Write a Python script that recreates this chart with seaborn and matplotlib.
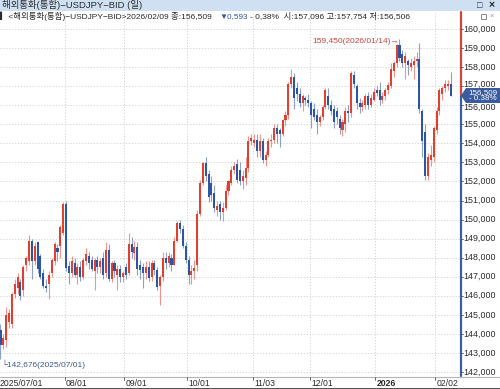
import matplotlib
matplotlib.use("Agg")
import matplotlib.pyplot as plt
import seaborn as sns
import pandas as pd
import numpy as np
from matplotlib.patches import Polygon, Rectangle
from matplotlib.lines import Line2D

# ---------------- data (USDJPY daily OHLC) ----------------
dates = [d for d in pd.bdate_range("2025-07-01", "2026-02-09") if d != pd.Timestamp("2026-01-01")]

jul_ohlc = [
    (144.2, 144.5, 142.676, 143.4), (143.4, 144.0, 143.2, 143.8), (143.7, 145.4, 143.3, 145.0),
    (144.6, 145.3, 144.3, 145.1), (144.5, 146.2, 144.3, 146.1), (146.1, 146.9, 145.9, 146.6),
    (146.4, 147.2, 146.1, 147.0), (146.7, 146.9, 145.8, 146.0), (146.3, 147.6, 146.0, 147.5),
    (147.6, 148.1, 147.3, 148.0), (147.8, 149.2, 147.6, 148.9), (148.9, 149.0, 146.9, 147.8),
    (147.8, 148.8, 147.6, 148.6), (148.8, 148.9, 147.2, 147.4), (148.1, 148.2, 146.9, 147.0),
    (147.2, 147.4, 146.4, 146.5), (146.5, 146.9, 146.2, 146.4), (146.6, 147.3, 145.85, 147.1),
    (147.2, 148.0, 147.0, 147.9), (147.8, 148.8, 147.6, 148.7), (148.5, 148.7, 147.8, 148.3),
    (148.6, 149.7, 148.0, 149.6), (149.3, 150.9, 149.2, 150.8),
]
aug_ohlc = [
    (150.8, 150.95, 147.3, 147.45), (147.55, 147.8, 146.6, 147.2), (147.2, 148.1, 147.0, 147.8),
    (147.7, 148.0, 147.0, 147.1), (147.1, 147.7, 146.6, 147.5), (147.5, 147.8, 146.8, 147.0),
    (147.0, 148.0, 146.9, 147.9), (147.8, 148.5, 147.6, 148.2), (148.1, 148.3, 147.4, 147.7),
    (147.9, 148.1, 147.3, 147.4), (147.3, 148.0, 146.3, 147.9), (147.9, 148.1, 147.2, 147.5),
    (147.5, 148.0, 147.2, 147.8), (148.0, 148.3, 146.9, 147.1), (147.2, 148.8, 147.0, 148.4),
    (148.4, 148.7, 146.8, 146.9), (146.9, 147.8, 146.7, 147.7), (147.7, 147.9, 147.0, 147.3),
    (147.1, 147.6, 146.3, 147.4), (147.4, 147.6, 146.7, 147.0), (147.0, 147.3, 146.7, 147.2),
]
sep_ohlc = [
    (147.5, 147.7, 146.9, 147.1), (147.2, 149.3, 147.1, 148.7), (148.7, 149.1, 148.0, 148.3),
    (148.25, 148.9, 147.9, 148.55), (148.55, 148.8, 147.1, 147.4), (147.6, 147.9, 146.9, 147.35),
    (147.5, 147.7, 146.4, 147.2), (147.2, 147.8, 146.9, 147.5), (147.5, 147.8, 146.8, 146.95),
    (147.0, 147.9, 146.8, 147.7), (147.7, 147.9, 147.1, 147.35), (147.35, 147.5, 146.3, 146.45),
    (146.5, 147.1, 145.5, 147.0), (147.0, 148.3, 146.8, 148.0), (148.0, 148.3, 147.4, 147.7),
    (147.7, 148.3, 147.5, 148.1), (148.0, 148.2, 147.3, 147.6), (147.6, 149.1, 147.6, 148.9),
    (148.9, 149.95, 148.8, 149.8), (149.8, 150.0, 149.3, 149.5), (149.5, 149.7, 148.5, 148.6),
    (148.6, 148.8, 147.7, 147.9),
]
oct_ohlc = [
    (147.9, 148.1, 146.6, 147.1), (147.1, 147.6, 146.6, 147.3), (147.3, 147.9, 146.9, 147.45),
    (147.6, 150.5, 147.3, 150.3), (150.3, 152.1, 150.2, 151.9), (151.9, 153.0, 151.8, 152.95),
    (152.95, 153.3, 152.0, 152.3), (152.4, 152.6, 150.9, 151.2), (151.9, 152.3, 151.0, 151.3),
    (151.4, 151.8, 150.4, 150.6), (150.5, 151.0, 150.2, 150.7), (150.8, 151.0, 150.0, 150.4),
    (150.4, 150.9, 149.9, 150.6), (150.6, 151.8, 150.5, 151.5), (151.5, 152.1, 151.3, 152.0),
    (151.9, 152.8, 151.8, 152.6), (152.6, 153.0, 152.4, 152.8), (152.9, 153.2, 151.9, 152.1),
    (152.6, 153.0, 151.8, 152.0), (152.0, 152.6, 151.6, 152.3), (152.2, 153.3, 151.8, 152.7),
    (152.7, 154.4, 152.5, 154.1), (154.1, 154.5, 153.9, 154.3),
]
nov_ohlc = [
    (154.0, 154.5, 153.8, 154.2), (154.2, 154.5, 153.3, 153.6), (153.6, 154.5, 153.3, 154.1),
    (154.1, 154.3, 152.95, 153.1), (153.1, 153.6, 152.8, 153.4), (153.4, 154.3, 153.3, 154.1),
    (154.1, 154.5, 153.8, 154.15), (154.15, 155.0, 154.0, 154.8), (154.8, 155.0, 154.0, 154.5),
    (154.7, 154.8, 153.8, 154.5), (154.5, 155.3, 154.4, 155.2), (155.2, 155.7, 154.9, 155.5),
    (155.5, 157.2, 155.3, 157.1), (157.1, 157.9, 156.9, 157.5), (157.5, 157.7, 155.8, 156.4),
    (156.9, 157.2, 156.2, 156.6), (156.6, 156.9, 155.9, 156.1), (156.1, 156.6, 155.7, 156.5),
    (156.4, 156.5, 156.0, 156.3), (156.3, 156.6, 155.9, 156.1),
]
dec_ohlc = [
    (156.1, 156.2, 154.8, 155.5), (155.8, 156.1, 155.2, 155.4), (155.5, 155.8, 154.5, 155.1),
    (155.1, 155.5, 154.9, 155.4), (155.4, 156.0, 155.2, 155.9), (155.9, 156.9, 155.8, 156.8),
    (156.5, 156.9, 155.8, 156.0), (156.0, 156.3, 155.5, 155.7), (155.8, 156.0, 154.8, 155.1),
    (155.7, 155.9, 155.0, 155.4), (155.3, 155.5, 154.5, 154.8), (154.7, 155.3, 154.4, 155.1),
    (155.0, 155.9, 154.6, 155.7), (155.7, 156.0, 155.1, 155.6), (155.6, 157.8, 155.4, 157.7),
    (157.6, 157.8, 156.9, 157.1), (157.0, 157.1, 155.8, 156.1), (156.1, 156.4, 155.6, 155.9),
    (155.9, 156.3, 155.7, 156.1), (156.0, 156.6, 155.8, 156.5), (156.5, 156.7, 155.8, 156.0),
    (156.0, 156.6, 155.9, 156.4), (156.3, 156.9, 156.2, 156.7),
]
jan_ohlc = [
    (156.8, 157.0, 156.5, 156.65), (156.8, 157.2, 156.0, 156.3), (156.3, 156.7, 156.1, 156.5),
    (156.5, 156.9, 156.3, 156.8), (156.8, 157.2, 156.6, 157.05), (157.0, 158.2, 156.9, 157.9),
    (157.8, 158.3, 157.5, 158.2), (158.2, 159.2, 158.0, 159.15), (159.15, 159.45, 158.3, 158.5),
    (158.7, 158.9, 158.0, 158.2), (158.2, 158.8, 157.4, 158.6), (158.3, 158.4, 157.6, 158.1),
    (158.0, 158.5, 157.8, 158.2), (158.1, 158.6, 157.4, 158.3), (158.3, 158.8, 158.0, 158.4),
    (158.4, 159.25, 155.6, 155.8), (155.7, 155.8, 153.3, 154.1), (154.6, 155.0, 152.1, 152.3),
    (152.3, 153.5, 152.1, 153.3), (153.1, 153.9, 152.8, 153.4), (153.3, 154.9, 153.0, 154.8),
]
feb_ohlc = [
    (154.7, 155.9, 154.5, 155.7), (155.7, 156.9, 155.5, 156.8), (156.6, 157.0, 156.3, 156.9),
    (156.9, 157.3, 156.7, 157.1), (157.0, 157.3, 156.8, 157.102), (157.096, 157.754, 156.506, 156.509),
]

tick_dates = ["2025-07-01", "2025-08-01", "2025-09-01", "2025-10-01", "2025-11-03",
              "2025-12-01", "2026-01-02", "2026-02-02"]
tick_labels = ["2025/07/01", "08/01", "09/01", "10/01", "11/03", "12/01", "2026", "02/02"]
price_ticks = list(range(142, 161))
last_price = 156.509
high_note = "159,450(2026/01/14)\u2192"
low_note = "\u2514142,676(2025/07/01)"

# ---------------- build frame ----------------
rows = jul_ohlc + aug_ohlc + sep_ohlc + oct_ohlc + nov_ohlc + dec_ohlc + jan_ohlc + feb_ohlc
df = pd.DataFrame(rows, columns=["open", "high", "low", "close"])
df["date"] = dates[:len(df)]
df["idx"] = np.arange(len(df))
df["up"] = df["close"] >= df["open"]

RED = "#e0402f"
BLUE = "#2e55a3"
TXT = "#2a2a2a"

sns.set_theme(style="white")
plt.rcParams["font.family"] = ["Liberation Sans", "Noto Sans CJK KR", "DejaVu Sans"]
plt.rcParams["axes.unicode_minus"] = False

W, H = 500, 389
fig = plt.figure(figsize=(W / 100, H / 100), dpi=100)
fig.patch.set_facecolor("white")

def fx(x):
    return x / W

def fy(y):
    return 1 - y / H

# plot area pixels
PX0, PX1, PY0, PY1 = 0, 460, 12, 376
ax = fig.add_axes([fx(PX0), fy(PY1), (PX1 - PX0) / W, (PY1 - PY0) / H])
ax.set_facecolor("white")

pp_idx = 2.85
x_left = (PX0 - 0.5) / pp_idx
x_right = (PX1 - 0.5) / pp_idx
ppu = (372 - 29) / 18.0
y_top = 160 + (29 - PY0) / ppu
y_bot = 142 - (PY1 - 372) / ppu
ax.set_xlim(x_left, x_right)
ax.set_ylim(y_bot, y_top)

# grid
for p in price_ticks:
    ax.axhline(p, color="#cfcfcf", lw=0.6, ls=(0, (1.5, 2)), zorder=0)
tick_idx = [int(df.index[df["date"] == pd.Timestamp(d)][0]) for d in tick_dates]
for ti in tick_idx:
    ax.axvline(ti - 0.5, color="#cfcfcf", lw=0.6, ls=(0, (1.5, 2)), zorder=0)

# candles
colors = np.where(df["up"], RED, BLUE)
ax.vlines(df["idx"], df["low"], df["high"], colors=colors, lw=0.8, alpha=0.55, zorder=2)
body_bottom = np.minimum(df["open"], df["close"])
body_h = np.maximum(np.abs(df["close"] - df["open"]), 0.04)
ax.bar(df["idx"], body_h, bottom=body_bottom, width=0.72, color=colors, linewidth=0, zorder=3)

ax.set_xticks([])
ax.set_yticks([])
for s in ax.spines.values():
    s.set_visible(False)

# annotations
hi_i = int(df["high"].idxmax())
lo_i = int(df["low"].idxmin())
ax.text(hi_i - 0.3, df["high"].max() - 0.12, high_note, color="#c9463b", fontsize=6.0,
        ha="right", va="center", zorder=5)
ax.text(lo_i + 0.2, df["low"].min() - 0.25, low_note, color="#3d5a8f", fontsize=6.0,
        ha="left", va="center", zorder=5)

# overlay axes in pixel coordinates
ax_r = fig.add_axes([0, 0, 1, 1], facecolor="none")
ax_r.set_xlim(0, W)
ax_r.set_ylim(H, 0)
ax_r.axis("off")
y_last = 29 + (160 - last_price) * ppu
ax_r.add_line(Line2D([460.5, 460.5], [PY0, y_last], color="#d8443a", lw=1.6))
ax_r.add_line(Line2D([460.5, 460.5], [y_last, PY1], color="#3d5ea6", lw=1.6))

for p in price_ticks:
    yy = 29 + (160 - p) * ppu
    ax_r.add_line(Line2D([461, 463], [yy, yy], color="#555555", lw=0.6))
    if abs(yy - y_last) > 12:
        ax_r.text(463.5, yy, f"{p},000", fontsize=6.4, color=TXT, ha="left", va="center", zorder=2)
    else:
        # partially hidden behind the current-price box, as in the reference
        sgn = -1 if yy < y_last else 1
        ax_r.text(463.5, yy + sgn * 2.0, f"{p},000", fontsize=6.4, color=TXT, ha="left",
                  va="center", zorder=2)

# current price box
box = Polygon([[461, y_last], [466, y_last - 7.5], [500, y_last - 7.5], [500, y_last + 7.5],
               [466, y_last + 7.5]], closed=True, facecolor="#3a5c9d", edgecolor="none", zorder=8)
ax_r.add_patch(box)
ax_r.text(483, y_last - 3.0, "156,509", fontsize=5.8, color="white", ha="center", va="center", zorder=9)
ax_r.text(483, y_last + 3.4, "- 0.38%", fontsize=5.8, color="white", ha="center", va="center", zorder=9)

# top title band
ax_r.add_patch(Rectangle((0, 0), W, 10.5, facecolor="#cfe0f2", edgecolor="none"))
ax_r.text(2, 5.2, "해외통화(통합)\u2212USDJPY\u2212BID (일)", fontsize=6.8, color=TXT,
          ha="left", va="center")
ax_r.text(480, 5, "\u25a1", fontsize=6.5, color=TXT, ha="center", va="center")
ax_r.text(492, 5, "\u00d7", fontsize=7.5, color=TXT, ha="center", va="center", weight="bold")

# info line
ax_r.text(0, 16.5, "\u258e<해외통화(통합)\u2212USDJPY\u2212BID>2026/02/09 종:156,509", fontsize=6.05,
          color=TXT, ha="left", va="center")
ax_r.text(219, 16.5, "\u25bc0,593", fontsize=5.9, color="#2e55a3", ha="left", va="center")
ax_r.text(250, 16.5, "- 0,38%  시:157,096 고:157,754 저:156,506", fontsize=6.0, color=TXT,
          ha="left", va="center")
ax_r.add_patch(Rectangle((481, 13.5), 5, 5, facecolor="white", edgecolor="#777777", lw=0.6))
ax_r.text(492, 16, "\u00d7", fontsize=5.5, color="#999999", ha="center", va="center")

# bottom date bar
ax_r.add_line(Line2D([0, W], [PY1 + 0.5, PY1 + 0.5], color="#b5b5b5", lw=0.8))
ax_r.add_line(Line2D([0, W], [388.5, 388.5], color="#333333", lw=1.2))
for ti, lab in zip(tick_idx, tick_labels):
    xp = 0.5 + pp_idx * (ti - 0.5)
    if ti == 0:
        xt = 0
    else:
        ax_r.add_line(Line2D([xp, xp], [PY1 + 1, PY1 + 4], color="#555555", lw=0.6))
        xt = xp + 1.5
    ax_r.text(xt, 383, lab, fontsize=6.2, color=TXT, ha="left", va="center",
              weight="bold" if lab == "2026" else "normal")

fig.savefig("out.png", dpi=100)
